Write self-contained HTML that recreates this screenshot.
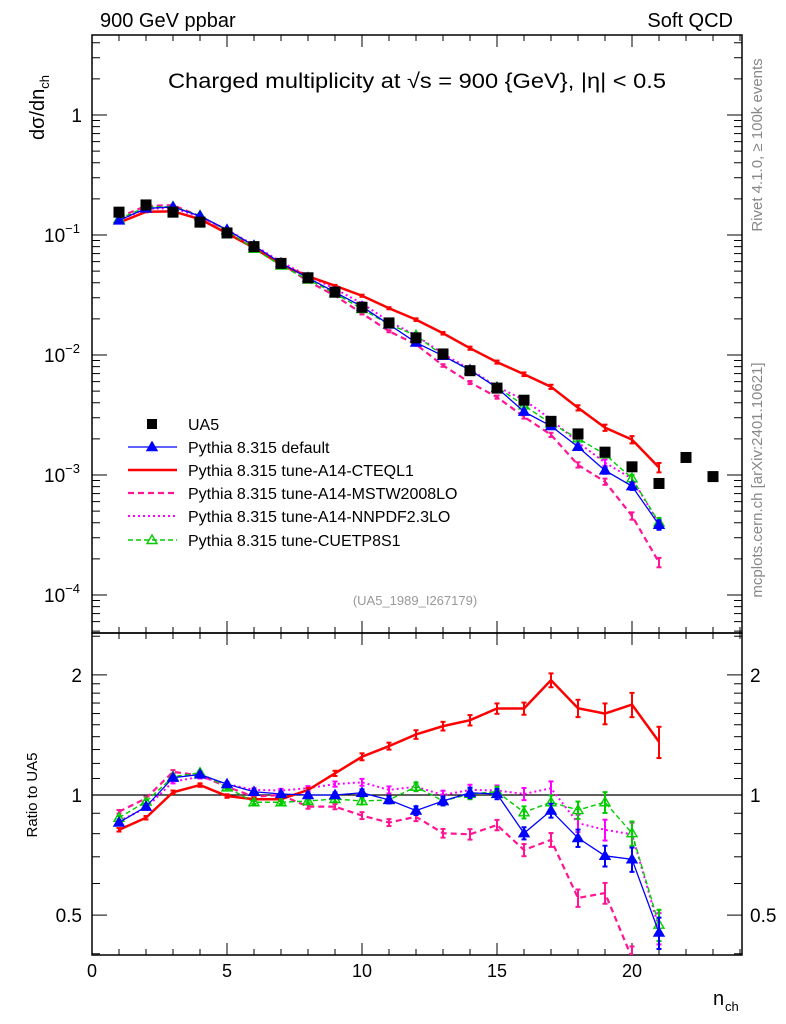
<!DOCTYPE html>
<html><head><meta charset="utf-8">
<style>
html,body{margin:0;padding:0;background:#fff;}
svg{display:block;font-family:"Liberation Sans",sans-serif;}
</style></head>
<body>
<svg id="c" width="786" height="1024" viewBox="0 0 786 1024"></svg>
<script>
const nVals=[1,2,3,4,5,6,7,8,9,10,11,12,13,14,15,16,17,18,19,20,21,22,23];
const ua5=[0.155,0.178,0.155,0.128,0.104,0.08,0.058,0.044,0.0334,0.025,0.0185,0.0139,0.0102,0.0074,0.0053,0.0042,0.0028,0.0022,0.00155,0.00117,0.00085,0.0014,0.00097];
const ratioDefault=[0.853,0.935,1.105,1.126,1.065,1.019,1.006,1.0,1.0,1.013,0.972,0.914,0.966,1.013,1.006,0.802,0.914,0.78,0.704,0.69,0.452];
const ratioCTEQ=[0.818,0.877,1.016,1.059,0.994,0.976,0.976,1.029,1.133,1.247,1.326,1.418,1.488,1.54,1.647,1.647,1.94,1.65,1.6,1.685,1.36];
const ratioMSTW=[0.908,0.981,1.143,1.12,1.049,0.99,1.0,0.935,0.935,0.888,0.853,0.882,0.802,0.797,0.841,0.728,0.772,0.552,0.568,0.39,0.22];
const ratioNNPDF=[0.86,0.928,1.08,1.111,1.065,1.03,1.026,1.04,1.065,1.076,1.03,1.049,1.0,1.03,1.026,1.006,1.04,0.85,0.818,0.797,0.464];
const ratioCUETP=[0.877,0.962,1.111,1.137,1.045,0.959,0.959,0.966,0.977,0.966,0.972,1.049,0.966,1.006,1.019,0.905,0.959,0.917,0.959,0.802,0.473];
const relErr=[0.01,0.01,0.01,0.01,0.01,0.01,0.01,0.012,0.015,0.02,0.02,0.025,0.025,0.03,0.03,0.035,0.04,0.05,0.06,0.07,0.09];
const xTicks=[0,5,10,15,20];
const mainTickLabels=["1","10","10","10","10"];
const mainTickExps=[null,"−1","−2","−3","−4"];
const ratioTickLabels=["0.5","1","2"];

const NS="http://www.w3.org/2000/svg";
const svg=document.getElementById('c');
const L=92,R=742,MT=35,MB=633,RT=633,RB=955;
const X=n=>L+27*n;
const Ym=v=>115-120*Math.log10(v);
const Yr=r=>795-399*Math.log10(r);
function el(tag,attrs,parent){const e=document.createElementNS(NS,tag);for(const k in attrs)e.setAttribute(k,attrs[k]);(parent||svg).appendChild(e);return e;}
function txt(s,attrs,parent){const t=el('text',attrs,parent);t.textContent=s;return t;}

const defs=el('defs',{});
const cm=el('clipPath',{id:'cm'},defs);el('rect',{x:L,y:MT,width:R-L,height:MB-MT},cm);
const cr=el('clipPath',{id:'cr'},defs);el('rect',{x:L,y:RT,width:R-L,height:RB-RT},cr);

const f1=el('rect',{x:L,y:MT,width:R-L,height:MB-MT,fill:'none',stroke:'#000','stroke-width':1.5});


const f2=el('rect',{x:L,y:RT,width:R-L,height:RB-RT,fill:'none',stroke:'#000','stroke-width':1.5});



const xt=el('g',{stroke:'#000','stroke-width':1});


for(let n=0;n<=24;n++){
  const maj=n%5===0, x=X(n), len=maj?12:6;
  [MT,RT].forEach(t=>el('line',{x1:x,y1:t,x2:x,y2:t+len},xt));
  [MB,RB].forEach(b=>el('line',{x1:x,y1:b,x2:x,y2:b-len},xt));
}
xTicks.forEach(v=>{const t=txt(String(v),{x:X(v),y:977,'font-size':18,'text-anchor':'middle'});

});
const xtitle=txt('n',{x:713,y:1005,'font-size':20});


txt('ch',{x:725,y:1011,'font-size':13});

const yt=el('g',{stroke:'#000','stroke-width':1});


for(let e=-5;e<=0;e++){for(let m=1;m<=9;m++){const v=m*Math.pow(10,e),y=Ym(v);if(y<MT||y>MB)continue;const len=m===1?15:8;
el('line',{x1:L,y1:y,x2:L+len,y2:y},yt);el('line',{x1:R,y1:y,x2:R-len,y2:y},yt);}}
mainTickLabels.forEach((s,i)=>{const y=Ym(Math.pow(10,-i));
const g=el('text',{x:82,y:y+7,'font-size':19,'text-anchor':'end'});


if(mainTickExps[i]){g.textContent='';const a=el('tspan',{},g);a.textContent=s;const b=el('tspan',{dy:-9,'font-size':13},g);b.textContent=mainTickExps[i];g.setAttribute('x',80);}else{g.textContent=s;}});
const ytitle=el('text',{transform:'translate(44,140) rotate(-90)','font-size':20});


{const a=el('tspan',{},ytitle);a.textContent='dσ/dn';const b=el('tspan',{dy:5,'font-size':13},ytitle);b.textContent='ch';}

const rt=el('g',{stroke:'#000','stroke-width':1});


[0.4,0.5,0.6,0.7,0.8,0.9,1,1.1,1.2,1.3,1.4,1.5,1.6,1.7,1.8,1.9,2,2.5].forEach(v=>{const y=Yr(v);if(y<RT||y>RB)return;const maj=(v===0.5||v===1||v===2);const len=maj?15:8;
el('line',{x1:L,y1:y,x2:L+len,y2:y},rt);el('line',{x1:R,y1:y,x2:R-len,y2:y},rt);});
ratioTickLabels.forEach(s=>{const y=Yr(parseFloat(s));
const a=txt(s,{x:82,y:y+7,'font-size':19,'text-anchor':'end'});


const b=txt(s,{x:750,y:y+7,'font-size':19});

});
const rtitle=txt('Ratio to UA5',{transform:'translate(37,795) rotate(-90)','font-size':15,'text-anchor':'middle'});


const one=el('line',{x1:L,y1:Yr(1),x2:R,y2:Yr(1),stroke:'#000','stroke-width':1.2});



const h1=txt('900 GeV ppbar',{x:100,y:27,'font-size':20});


const h2=txt('Soft QCD',{x:733,y:27,'font-size':20,'text-anchor':'end'});


const tt=txt('Charged multiplicity at √s = 900 {GeV}, |η| < 0.5',{x:168,y:88,'font-size':21,textLength:498,lengthAdjust:'spacingAndGlyphs'});


const r1=txt('Rivet 4.1.0, ≥ 100k events',{transform:'translate(762,145) rotate(-90)','font-size':15,'fill':'#888','text-anchor':'middle'});


const r2=txt('mcplots.cern.ch [arXiv:2401.10621]',{transform:'translate(762,480) rotate(-90)','font-size':15,'fill':'#888','text-anchor':'middle'});


const ref=txt('(UA5_1989_I267179)',{x:415,y:605,'font-size':13,'fill':'#999','text-anchor':'middle'});



const series=[
 {name:'pythia-default',ratio:ratioDefault,color:'#0000ff',w:1.3,dash:null,marker:'tri-filled',label:'Pythia 8.315 default'},
 {name:'pythia-a14-cteql1',ratio:ratioCTEQ,color:'#ff0000',w:2.5,dash:null,marker:null,label:'Pythia 8.315 tune-A14-CTEQL1'},
 {name:'pythia-a14-mstw2008lo',ratio:ratioMSTW,color:'#ff1493',w:2.2,dash:'6,4',marker:null,label:'Pythia 8.315 tune-A14-MSTW2008LO'},
 {name:'pythia-a14-nnpdf23lo',ratio:ratioNNPDF,color:'#ff00ff',w:2,dash:'2,3',marker:null,label:'Pythia 8.315 tune-A14-NNPDF2.3LO'},
 {name:'pythia-cuetp8s1',ratio:ratioCUETP,color:'#00cc00',w:1.4,dash:'5,3',marker:'tri-open',label:'Pythia 8.315 tune-CUETP8S1'}
];
function tri(g,x,y,c,filled){el('path',{d:`M${x},${y-5}L${x+5},${y+3.5}L${x-5},${y+3.5}Z`,fill:filled?c:'none',stroke:c,'stroke-width':1.4},g);}
const drawOrder=[2,3,1,4,0];
drawOrder.forEach(si=>{
  const s=series[si];
  const gm=el('g',{'clip-path':'url(#cm)'});
  
  
  const gr=el('g',{'clip-path':'url(#cr)'});
  
  
  const ptsM=s.ratio.map((r,i)=>[X(nVals[i]),Ym(ua5[i]*r)]);
  const ptsR=s.ratio.map((r,i)=>[X(nVals[i]),Yr(r)]);
  [[gm,ptsM,Ym,(r,i)=>ua5[i]*r],[gr,ptsR,Yr,(r,i)=>r]].forEach(([g,pts,Yf,vf])=>{
    const a={points:pts.map(p=>p.join(',')).join(' '),fill:'none',stroke:s.color,'stroke-width':s.w};
    if(s.dash)a['stroke-dasharray']=s.dash;
    el('polyline',a,g);
    s.ratio.forEach((r,i)=>{const v=vf(r,i),e=relErr[i],x=X(nVals[i]);
      const y1=Yf(v*(1+e)),y2=Yf(v*(1-e));
      el('line',{x1:x,y1:y1,x2:x,y2:y2,stroke:s.color,'stroke-width':2},g);
      el('line',{x1:x-2.5,y1:y1,x2:x+2.5,y2:y1,stroke:s.color,'stroke-width':2},g);
      el('line',{x1:x-2.5,y1:y2,x2:x+2.5,y2:y2,stroke:s.color,'stroke-width':2},g);
      if(s.marker)tri(g,x,Yf(v),s.color,s.marker==='tri-filled');
    });
  });
});
const gd=el('g',{'clip-path':'url(#cm)'});


ua5.forEach((v,i)=>{const p=el('rect',{x:X(nVals[i])-5.5,y:Ym(v)-5.5,width:11,height:11,fill:'#000'},gd);

});

const lg=el('g',{});


const ly=[424,447,470,493,516,540];
{const e=el('g',{},lg);
el('rect',{x:147,y:ly[0]-5,width:10,height:10,fill:'#000'},e);
txt('UA5',{x:188,y:ly[0]+6,'font-size':16},e);}
series.forEach((s,i)=>{const y=ly[i+1];const e=el('g',{},lg);


const a={x1:128,y1:y,x2:177,y2:y,stroke:s.color,'stroke-width':s.w};if(s.dash)a['stroke-dasharray']=s.dash;el('line',a,e);
if(s.marker)tri(e,152,y,s.color,s.marker==='tri-filled');
txt(s.label,{x:188,y:y+6,'font-size':16},e);});
</script>
</body></html>
